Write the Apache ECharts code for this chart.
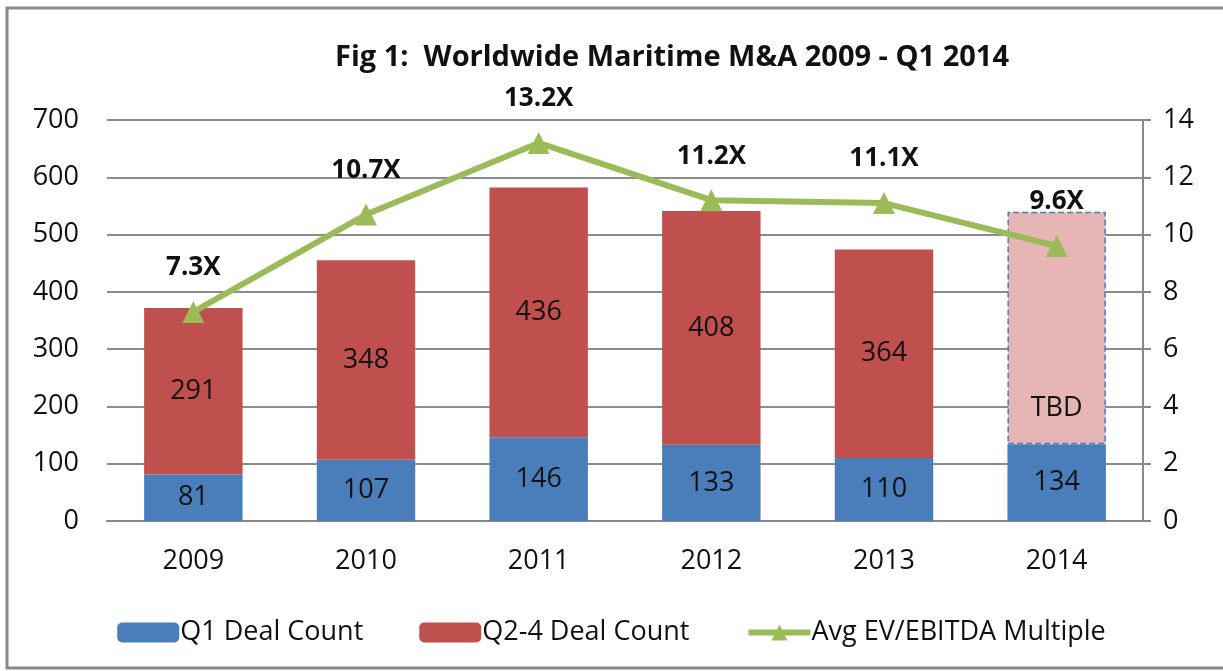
<!DOCTYPE html>
<html>
<head>
<meta charset="utf-8">
<script src="https://cdn.jsdelivr.net/npm/echarts@6/dist/echarts.min.js"></script>
<style>
  html, body { margin: 0; padding: 0; background: #fff; }
  #chart { width: 1223px; height: 671px; }
</style>
</head>
<body>
<div id="chart"></div>
<script>
// data
const years = ['2009', '2010', '2011', '2012', '2013', '2014'];
const q1Deals = [81, 107, 146, 133, 110, 134];
const q24Deals = [291, 348, 436, 408, 364, null];
const tbdDeals = [null, null, null, null, null, 406];
const evMultiple = [7.3, 10.7, 13.2, 11.2, 11.1, 9.6];

const FONT = '"Open Sans", "Liberation Sans", sans-serif';

const chart = echarts.init(document.getElementById('chart'));
chart.setOption({
    backgroundColor: '#fff',
    animation: false,
    textStyle: { fontFamily: FONT },
    title: {
        text: 'Fig 1:  Worldwide Maritime M&A 2009 - Q1 2014',
        left: 330,
        top: 38,
        textStyle: { fontFamily: FONT, fontSize: 29, fontWeight: 'bold', color: '#111' }
    },
    graphic: [{
        type: 'rect',
        shape: { x: 7, y: 8, width: 1230, height: 660 },
        style: { fill: 'none', stroke: '#8a8a8a', lineWidth: 3 },
        silent: true
    }],
    legend: {
        top: 614,
        left: 'center',
        itemWidth: 62,
        itemHeight: 20,
        itemGap: 56,
        data: [
            'Q1 Deal Count',
            'Q2-4 Deal Count',
            { name: 'Avg EV/EBITDA Multiple', lineStyle: { width: 6 } }
        ],
        textStyle: { fontFamily: FONT, fontSize: 27, color: '#111', padding: [0, 0, 0, -4] }
    },
    grid: { left: 107, right: 80, top: 120, bottom: 150 },
    xAxis: {
        type: 'category',
        data: years,
        axisLine: { lineStyle: { color: '#888', width: 2 } },
        axisTick: { show: false },
        axisLabel: { fontSize: 27, color: '#111', margin: 27, fontFamily: FONT }
    },
    yAxis: [{
        type: 'value',
        min: 0, max: 700, interval: 100,
        axisLine: { show: false },
        axisTick: { show: false },
        splitLine: { lineStyle: { color: '#8c8c8c', width: 2 } },
        axisLabel: { fontSize: 27, color: '#111', margin: 28, fontFamily: FONT }
    }, {
        type: 'value',
        min: 0, max: 14, interval: 2,
        axisLine: { show: true, lineStyle: { color: '#888', width: 2 } },
        axisTick: { show: true, inside: false, length: 8, lineStyle: { color: '#888', width: 2 } },
        splitLine: { show: false },
        axisLabel: { fontSize: 27, color: '#111', margin: 20, fontFamily: FONT }
    }],
    series: [{
        name: 'Q1 Deal Count',
        type: 'bar',
        stack: 'deals',
        barWidth: '57%',
        data: q1Deals,
        itemStyle: { color: '#4a7ebb' },
        label: { show: true, position: 'inside', fontSize: 27, color: '#111', fontFamily: FONT }
    }, {
        name: 'Q2-4 Deal Count',
        type: 'bar',
        stack: 'deals',
        data: q24Deals,
        itemStyle: { color: '#c0504d' },
        label: { show: true, position: 'inside', fontSize: 27, color: '#111', fontFamily: FONT }
    }, {
        name: 'TBD',
        type: 'bar',
        stack: 'deals',
        data: tbdDeals,
        itemStyle: { color: '#e6b6b5', borderColor: '#4a7ebb', borderWidth: 1.5, borderType: 'dashed' },
        label: {
            show: true, position: 'insideBottom', distance: 22,
            formatter: 'TBD', fontSize: 27, color: '#111', fontFamily: FONT
        }
    }, {
        name: 'Avg EV/EBITDA Multiple',
        type: 'line',
        yAxisIndex: 1,
        data: evMultiple,
        symbol: 'triangle',
        symbolSize: 22,
        z: 10,
        lineStyle: { color: '#9bbb59', width: 6 },
        itemStyle: { color: '#9bbb59' },
        label: {
            show: true, position: 'top', distance: 20,
            formatter: '{c}X', fontSize: 26, fontWeight: 'bold', color: '#111', fontFamily: FONT
        }
    }]
});
</script>
</body>
</html>
